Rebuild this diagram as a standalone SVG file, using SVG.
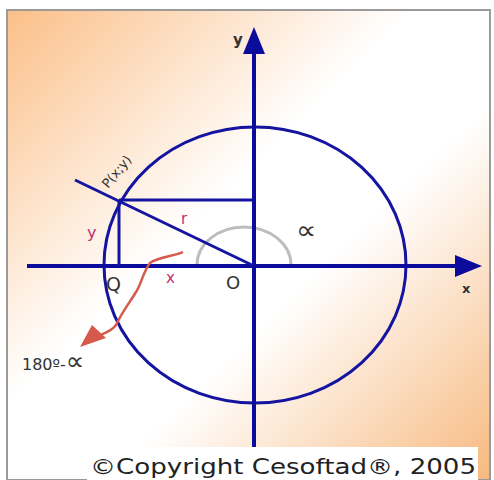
<svg xmlns="http://www.w3.org/2000/svg" width="494" height="480" viewBox="0 0 494 480">
<defs>
<linearGradient id="bg" x1="0" y1="0" x2="1" y2="1">
<stop offset="0" stop-color="#fbbf88"/>
<stop offset="0.42" stop-color="#ffffff"/>
<stop offset="0.6" stop-color="#ffffff"/>
<stop offset="1" stop-color="#f7b97f"/>
</linearGradient>
<style>
.ax{stroke:#0b0b9c;stroke-width:4;fill:none}
.ln{stroke:#1414a0;stroke-width:3;fill:none}
.lbl{font-family:"DejaVu Sans",sans-serif;fill:#333}
.mg{font-family:"DejaVu Sans",sans-serif;fill:#c0306e}
</style>
</defs>
<rect x="0" y="0" width="494" height="480" fill="#fff"/>
<rect x="7" y="10" width="483" height="470" fill="url(#bg)" stroke="#9a9a9a" stroke-width="2"/>
<g id="circle">
<ellipse cx="255" cy="265" rx="151" ry="138" class="ln"/>
</g>
<g id="angle-arc">
<path d="M197 265 A47 38 0 0 1 291 265" fill="none" stroke="#bdbdbd" stroke-width="3"/>
</g>
<g id="connectors">
<line x1="27" y1="266" x2="458" y2="266" class="ax"/>
<polygon points="482,266 455,255 455,277" fill="#0b0b9c"/>
<line x1="254" y1="447" x2="254" y2="50" class="ax"/>
<polygon points="254,27 243,54 265,54" fill="#0b0b9c"/>
<line x1="119" y1="200" x2="254" y2="200" class="ln"/>
<line x1="119" y1="200" x2="119" y2="266" class="ln"/>
<line x1="75" y1="180" x2="254" y2="266" class="ln"/>
<path d="M183 252 C175 256 158 257 150 263 C143 272 141 285 136 292 C130 302 122 312 116 325 C112 331 105 333 98 336" fill="none" stroke="#d65a4c" stroke-width="2.5"/>
<polygon points="80,347 92,325 106,338" fill="#d65a4c"/>
</g>
<g id="labels">
<text x="233" y="45" class="lbl" font-family="Liberation Serif" font-weight="bold" font-size="15">y</text>
<text x="462" y="293" class="lbl" font-weight="bold" font-size="13">x</text>
<text x="0" y="0" class="lbl" font-size="13" transform="translate(108,189) rotate(-50)">P(x;y)</text>
<text x="181" y="224" class="mg" font-size="15">r</text>
<text x="87" y="238" class="mg" font-size="16">y</text>
<text x="166" y="283" class="mg" font-size="15">x</text>
<text x="106" y="291" class="lbl" fill="#222" font-size="19">Q</text>
<text x="226" y="289" class="lbl" fill="#222" font-size="18">O</text>
<text x="0" y="0" class="lbl" font-size="26" transform="translate(296,239) scale(1.1,1)">∝</text>
<text x="22" y="370" class="lbl" font-size="16">180º-<tspan font-size="26">∝</tspan></text>
</g>
<g id="copyright">
<rect x="87" y="447" width="391" height="33" fill="#fff"/>
<text x="90" y="474" font-family="DejaVu Sans,sans-serif" font-size="22" fill="#222" textLength="386" lengthAdjust="spacingAndGlyphs">©Copyright Cesoftad®, 2005</text>
</g>
</svg>
